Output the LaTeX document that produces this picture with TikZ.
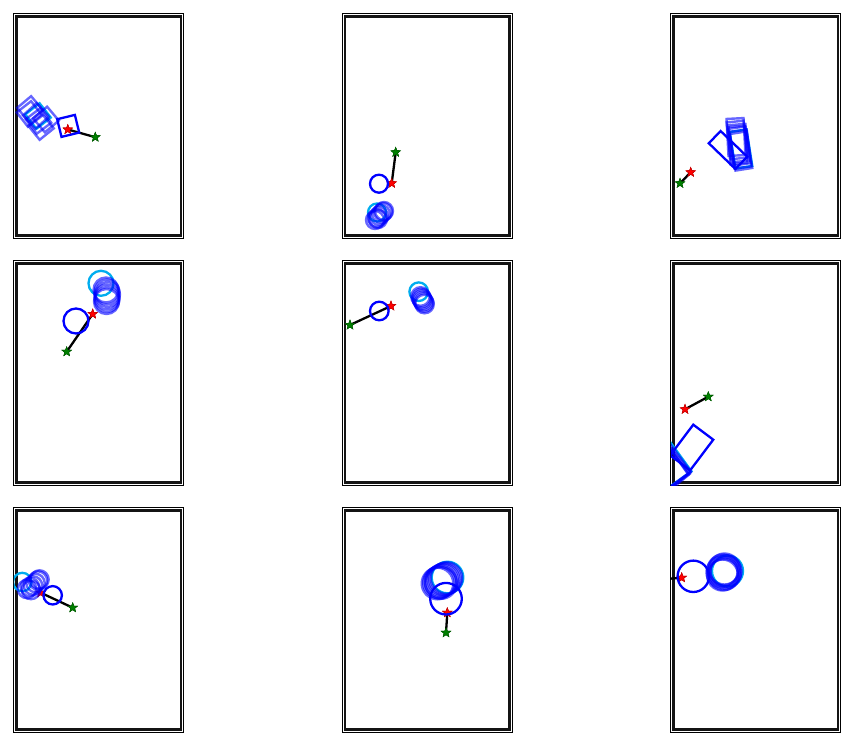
\documentclass[tikz,border=0pt]{standalone}
\usetikzlibrary{shapes.geometric}
\definecolor{dkgreen}{RGB}{0,128,0}
\tikzset{
  frameout/.style={draw=black, line width=1pt},
  framein/.style={draw=black!92, line width=2.4pt},
  trailline/.style={draw=black, line width=2.3pt},
  cur/.style={draw=blue, line width=2.3pt},
  hist/.style={draw=blue, draw opacity=0.6, line width=2.4pt},
  goal/.style={draw=cyan, line width=2.3pt},
  starmark/.style={star, star points=5, star point ratio=2.4, minimum size=10pt, inner sep=0pt, line width=0.4pt},
  redstar/.style={starmark, fill=red, draw=red!75!black},
  greenstar/.style={starmark, fill=dkgreen, draw=dkgreen!70!black},
}
\begin{document}
\begin{tikzpicture}[x=1pt,y=-1pt]
\useasboundingbox[fill=white] (0,0) rectangle (853,746);
% frames
\foreach \X in {13.8,342.3,670.8} \foreach \Y in {13.8,260.8,507.8} {
  \draw[frameout] (\X,\Y) rectangle ++(170,224.5);
  \draw[framein] (\X+2.7,\Y+2.7) rectangle ++(164.6,219.1);
}
% ---------- panel 1
\begin{scope}
\clip (13.8,13.8) rectangle ++(170,224.5);
\node[redstar] (r1) at (67.8,129.5) {};
\node[greenstar] (g1) at (95.3,137.2) {};
\draw[trailline] (r1.center) -- (g1.center);
\node[redstar] at (r1) {};
\node[greenstar] at (g1) {};
\draw[goal, shift={(38,116)}, rotate=38] (-9.1,-9.1) rectangle (9.1,9.1);
\foreach \cx/\cy/\a in {30/109/40,29.5/114/38,36/116/42,38.5/121/37,46/119.5/40,41/127/39}
  \draw[hist, shift={(\cx,\cy)}, rotate=\a] (-9.1,-9.1) rectangle (9.1,9.1);
\draw[cur, shift={(68.2,125.9)}, rotate=13.7] (-9.1,-9.1) rectangle (9.1,9.1);
\end{scope}
% ---------- panel 2
\begin{scope}
\clip (342.3,13.8) rectangle ++(170,224.5);
\node[redstar] (r2) at (391.7,183.3) {};
\node[greenstar] (g2) at (395.7,152.3) {};
\draw[trailline] (r2.center) -- (g2.center);
\node[redstar] at (r2) {};
\node[greenstar] at (g2) {};
\draw[goal] (377,212.5) circle[radius=9];
\foreach \cx/\cy in {375/220,377/218,379/216,381/214,383/212,384/211,378/219}
  \draw[hist] (\cx,\cy) circle[radius=9];
\draw[cur] (379,183.7) circle[radius=9];
\end{scope}
% ---------- panel 3
\begin{scope}
\clip (670.8,13.8) rectangle ++(170,224.5);
\node[redstar] (r3) at (690.7,172.3) {};
\node[greenstar] (g3) at (680,183.3) {};
\draw[trailline] (r3.center) -- (g3.center);
\node[redstar] at (r3) {};
\node[greenstar] at (g3) {};
\draw[goal, shift={(741,149)}, rotate=-81] (-18.5,-8.5) rectangle (18.5,8.5);
\foreach \cx/\cy/\a in {736/137/87,737/140/84,738.5/143/85,739.5/146/82,740.5/149/83,741/151/81,737.5/145/86}
  \draw[hist, shift={(\cx,\cy)}, rotate=-\a] (-18.5,-8.5) rectangle (18.5,8.5);
\draw[cur, shift={(728,150)}, rotate=-44] (-18.5,-8.5) rectangle (18.5,8.5);
\end{scope}
% ---------- panel 4
\begin{scope}
\clip (13.8,260.8) rectangle ++(170,224.5);
\node[redstar] (r4) at (92.7,314) {};
\node[greenstar] (g4) at (66.7,351.7) {};
\draw[trailline] (r4.center) -- (g4.center);
\node[redstar] at (r4) {};
\node[greenstar] at (g4) {};
\draw[goal] (101,283.3) circle[radius=12.5];
\foreach \cx/\cy in {106/290,107/292,107.5/294.5,107/297,107/299.5,106.5/301.5}
  \draw[hist] (\cx,\cy) circle[radius=12.5];
\draw[cur] (76,321) circle[radius=12.5];
\end{scope}
% ---------- panel 5
\begin{scope}
\clip (342.3,260.8) rectangle ++(170,224.5);
\node[redstar] (r5) at (391,306) {};
\node[greenstar] (g5) at (350,325) {};
\draw[trailline] (r5.center) -- (g5.center);
\node[redstar] at (r5) {};
\node[greenstar] at (g5) {};
\draw[goal] (418.7,291.7) circle[radius=9.3];
\foreach \cx/\cy in {420.5/296.5,421.5/298,422/299.5,423/301,424/302.5,424.5/304}
  \draw[hist] (\cx,\cy) circle[radius=9.3];
\draw[cur] (379.3,311) circle[radius=9.3];
\end{scope}
% ---------- panel 6
\begin{scope}
\clip (670.8,260.8) rectangle ++(170,224.5);
\node[redstar] (r6) at (685,409.3) {};
\node[greenstar] (g6) at (708.3,396.7) {};
\draw[trailline] (r6.center) -- (g6.center);
\node[redstar] at (r6) {};
\node[greenstar] at (g6) {};
\draw[goal, shift={(670,463)}, rotate=36] (-12.5,-19.2) rectangle (12.5,19.2);
\foreach \cx/\cy/\a in {669.5/464/37,668.5/465/39,667.5/466/35,668/467/40,666.5/465.5/36}
  \draw[hist, shift={(\cx,\cy)}, rotate=\a] (-12.5,-19.2) rectangle (12.5,19.2);
\draw[cur, shift={(691.7,447.5)}, rotate=-37] (-12.5,-19.2) rectangle (12.5,19.2);
\end{scope}
% ---------- panel 7
\begin{scope}
\clip (13.8,507.8) rectangle ++(170,224.5);
\node[redstar] (r7) at (40.7,592.7) {};
\node[greenstar] (g7) at (72.7,607.7) {};
\draw[trailline] (r7.center) -- (g7.center);
\node[redstar] at (r7) {};
\node[greenstar] at (g7) {};
\draw[goal] (22.3,582) circle[radius=9.2];
\foreach \cx/\cy in {27/589,30/587,33/585.5,35.5/583,38/580.5,39.5/579.5,31/590}
  \draw[hist] (\cx,\cy) circle[radius=9.2];
\draw[cur] (52.7,595.3) circle[radius=9.2];
\end{scope}
% ---------- panel 8
\begin{scope}
\clip (342.3,507.8) rectangle ++(170,224.5);
\node[redstar] (r8) at (447.3,612.7) {};
\node[greenstar] (g8) at (446,632.7) {};
\draw[trailline] (r8.center) -- (g8.center);
\node[redstar] at (r8) {};
\node[greenstar] at (g8) {};
\draw[goal] (447.5,577.5) circle[radius=15.8];
\foreach \cx/\cy in {437.5/583.5,439/582.5,440.5/581.5,442/580.5,443.5/579.5,445/579,446.5/578,441/583}
  \draw[hist] (\cx,\cy) circle[radius=15.8];
\draw[cur] (446,598.7) circle[radius=15.8];
\end{scope}
% ---------- panel 9
\begin{scope}
\clip (670.8,507.8) rectangle ++(170,224.5);
\node[redstar] (r9) at (681.7,577.7) {};
\coordinate (g9) at (655,580);
\draw[trailline] (r9.center) -- (g9);
\node[redstar] at (r9) {};
\draw[goal] (727.5,571) circle[radius=15.5];
\foreach \cx/\cy in {722/572,723/570,724.5/569,726/571,724/574.5,722.5/575,725.5/573}
  \draw[hist] (\cx,\cy) circle[radius=15.5];
\draw[cur] (693.3,576.3) circle[radius=15.7];
\end{scope}
\end{tikzpicture}
\end{document}
